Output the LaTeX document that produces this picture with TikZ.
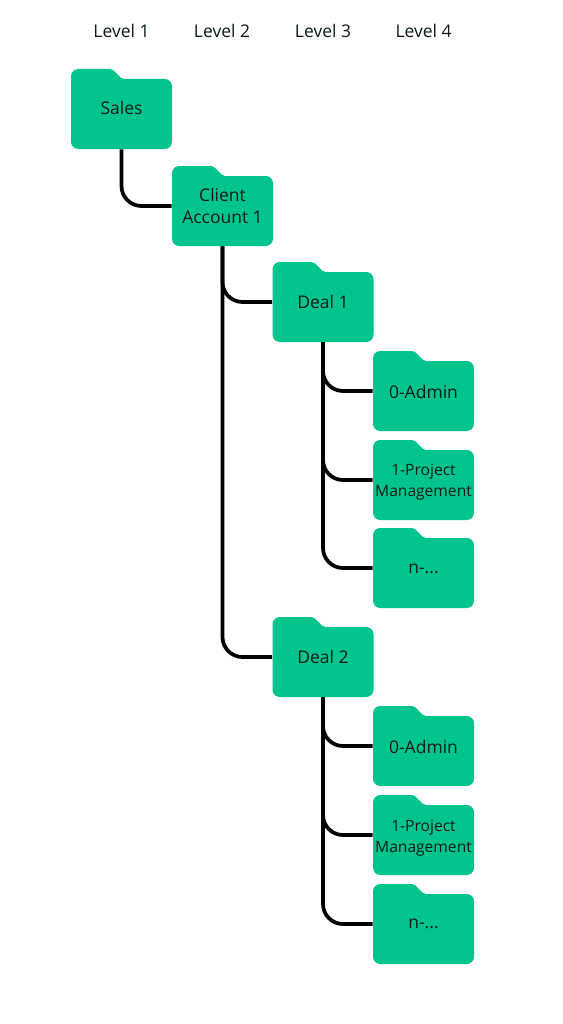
\documentclass[tikz,border=0pt]{standalone}
\usepackage{fontspec}
\setmainfont{Open Sans}
\definecolor{foldergreen}{HTML}{00C48D}
\definecolor{inkdark}{HTML}{0E1A1A}
\tikzset{
  x=0.75pt,y=-0.75pt,
  folderanchor/.style={minimum width=75.75pt,minimum height=60pt,inner sep=0pt},
  foldertext/.style={inner sep=0pt,align=center,text=inkdark},
  conn/.style={draw=black,line width=2.8pt,rounded corners=15pt},
  levellabel/.style={text=inkdark,font=\fontsize{13.1}{16}\selectfont,inner sep=0pt},
  bigtext/.style={font=\fontsize{13.1}{16.5}\selectfont},
  smalltext/.style={font=\fontsize{11.7}{15.9}\selectfont}
}
% #1 name, #2 left, #3 top, #4 text style, #5 text
\newcommand{\folderbox}[5]{%
  \fill[foldergreen,shift={(#2,#3)}] (0,40) [rounded corners=5.5pt] -- (0,0) [rounded corners=1.5pt] -- (41,0) -- (51,10) [rounded corners=5.5pt] -- (101,10) -- (101,80) -- (0,80) -- cycle;
  \node[folderanchor,shift={(#2,#3)}] (#1) at (50.5,40) {};
  \node[foldertext,#4] (#1text) at (#1) {#5};}
\begin{document}
\begin{tikzpicture}
\useasboundingbox (0,0) rectangle (563,1024);
\fill[white] (0,0) rectangle (563,1024);
\node[levellabel] (l1) at (121.5,31) {Level 1};
\node[levellabel] (l2) at (222,31) {Level 2};
\node[levellabel] (l3) at (323,31) {Level 3};
\node[levellabel] (l4) at (423.5,31) {Level 4};
\folderbox{sales}{71}{69}{bigtext,yshift=0.5pt}{Sales}
\folderbox{client}{172}{166}{bigtext}{Client\\Account 1}
\folderbox{deala}{272.5}{262}{bigtext}{Deal 1}
\folderbox{admina}{373}{351}{bigtext,yshift=-0.7pt}{0-Admin}
\folderbox{pma}{373}{440}{smalltext,yshift=-1.5pt}{1-Project\\Management}
\folderbox{na}{373}{528}{bigtext,yshift=-0.5pt}{n-...}
\folderbox{dealb}{272.5}{617}{bigtext}{Deal 2}
\folderbox{adminb}{373}{706}{bigtext,yshift=-0.7pt}{0-Admin}
\folderbox{pmb}{373}{795}{smalltext,yshift=-2.5pt}{1-Project\\Management}
\folderbox{nb}{373}{884}{bigtext}{n-...}
\draw[conn] (sales.south) |- (client.west);
\draw[conn] (client.south) |- (deala.west);
\draw[conn] (client.south) |- (dealb.west);
\draw[conn] (deala.south) |- (admina.west);
\draw[conn] (deala.south) |- (pma.west);
\draw[conn] (deala.south) |- (na.west);
\draw[conn] (dealb.south) |- (adminb.west);
\draw[conn] (dealb.south) |- (pmb.west);
\draw[conn] (dealb.south) |- (nb.west);
\end{tikzpicture}
\end{document}
